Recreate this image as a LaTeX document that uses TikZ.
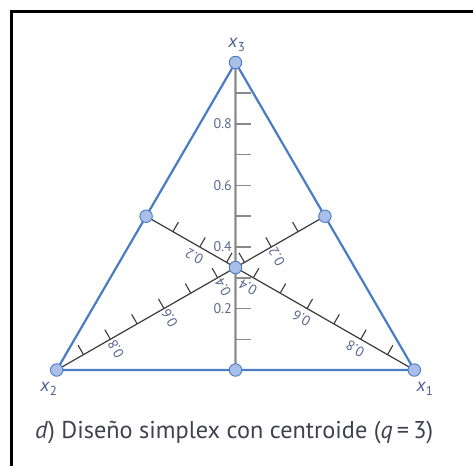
\documentclass[tikz,border=0pt]{standalone}
\usepackage{fontspec}
\setmainfont{PT Sans}
\usetikzlibrary{calc}
\definecolor{edgeblue}{HTML}{4A7CC4}
\definecolor{dotfill}{HTML}{A9BFE8}
\definecolor{axgray}{HTML}{8A8A8A}
\definecolor{axdark}{HTML}{3A3A3A}
\definecolor{numcol}{HTML}{5A6890}
\definecolor{vlabcol}{HTML}{4A5F8F}
\definecolor{capcol}{HTML}{404050}
\begin{document}
\begin{tikzpicture}[x=1pt,y=-1pt,
  vdot/.style={circle,fill=dotfill,draw=edgeblue,line width=0.9pt,minimum size=12.5pt,inner sep=0pt},
  edgeline/.style={draw=edgeblue,line width=2.2pt,line join=round},
  vaxis/.style={draw=axgray,line width=2.2pt},
  vtick/.style={draw=axgray,line width=1.5pt},
  daxis/.style={draw=axdark,line width=1.2pt},
  dtick/.style={draw=axdark,line width=1.1pt},
  numlab/.style={text=numcol,font=\fontsize{14}{16}\selectfont,inner sep=0pt},
  vlab/.style={text=vlabcol,font=\fontsize{18.5}{20}\selectfont,inner sep=0pt},
  frameline/.style={draw=black,line width=2.7pt}]
\useasboundingbox (0,0) rectangle (473,466);
\draw[frameline] (473,11.3) -- (11.3,11.3) -- (11.3,466);

\coordinate (pX3) at (235.5,62.5);
\coordinate (pX2) at (56.7,370);
\coordinate (pX1) at (414.3,370);
\coordinate (M12) at ($(pX1)!0.5!(pX2)$);
\coordinate (M23) at ($(pX2)!0.5!(pX3)$);
\coordinate (M13) at ($(pX1)!0.5!(pX3)$);
\coordinate (C) at ($(M12)!1/3!(pX3)$);

% x3 axis (vertical)
\draw[vaxis] (M12) -- (pX3);
\foreach \t in {1,...,9} {
  \coordinate (a\t) at ($(M12)!0.1*\t!(pX3)$);
  \draw[vtick] (a\t) -- ($(a\t)!15pt!-90:(pX3)$);
}
\foreach \t in {2,4,6,8} {
  \node[numlab,anchor=east] (va\t) at ($(a\t)+(-3.5,0)$) {0.\t};
}

% x1 axis
\draw[daxis] (M23) -- (pX1);
\foreach \t in {1,...,9} {
  \coordinate (b\t) at ($(M23)!0.1*\t!(pX1)$);
  \draw[dtick] (b\t) -- ($(b\t)!11pt!90:(pX1)$);
}
\foreach \t in {2,4,6,8} {
  \node[numlab,rotate=150] (vb\t) at ($(b\t)!11pt!-90:(pX1)$) {0.\t};
}

% x2 axis
\draw[daxis] (M13) -- (pX2);
\foreach \t in {1,...,9} {
  \coordinate (c\t) at ($(M13)!0.1*\t!(pX2)$);
  \draw[dtick] (c\t) -- ($(c\t)!11pt!-90:(pX2)$);
}
\foreach \t in {2,4,6,8} {
  \node[numlab,rotate=120] (vc\t) at ($(c\t)!11pt!90:(pX2)$) {0.\t};
}

% triangle
\draw[edgeline] (pX1) -- (pX2) -- (pX3) -- cycle;

% design points
\node[vdot] (X1) at (pX1) {};
\node[vdot] (X2) at (pX2) {};
\node[vdot] (X3) at (pX3) {};
\node[vdot] (D12) at (M12) {};
\node[vdot] (D23) at (M23) {};
\node[vdot] (D13) at (M13) {};
\node[vdot] (DC) at (C) {};

% vertex labels
\node[vlab] (L3) at (237,45) {\textit{x}\textsubscript{3}};
\node[vlab] (L2) at (49,389) {\textit{x}\textsubscript{2}};
\node[vlab] (L1) at (425,389) {\textit{x}\textsubscript{1}};

% caption
\node[anchor=base west,inner sep=0pt,text=capcol,font=\fontsize{24.3}{27}\selectfont] (cap) at (35,438)
  {\textit{d}) Diseño simplex con centroide (\textit{q}\,=\,3)};
\end{tikzpicture}
\end{document}
